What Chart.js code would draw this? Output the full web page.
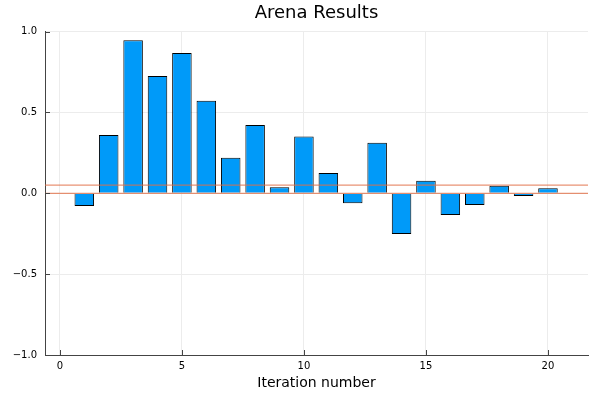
<!DOCTYPE html>
<html>
<head>
<meta charset="utf-8">
<script src="https://cdn.jsdelivr.net/npm/chart.js@4/dist/chart.umd.min.js"></script>
<style>
html,body{margin:0;padding:0;background:#fff;}
#wrap{width:600px;height:400px;}
</style>
</head>
<body>
<div id="wrap"><canvas id="c" width="600" height="400"></canvas></div>
<script>
const iterations = [1,2,3,4,5,6,7,8,9,10,11,12,13,14,15,16,17,18,19,20];
const results = [-0.078,0.36,0.946,0.726,0.868,0.572,0.22,0.422,0.037,0.352,0.125,-0.062,0.313,-0.251,0.078,-0.134,-0.072,0.047,-0.016,0.031];
const referenceLines = [0, 0.05];
const xTicks = [0,5,10,15,20];
const yTicks = [-1,-0.5,0,0.5,1];
const xRange = [-0.61, 21.64];
const yRange = [-1, 1];

const FONT = "'DejaVu Sans', sans-serif";

const barData = iterations.map((x,i)=>({x:x, y:results[i]}));
const lineSets = referenceLines.map(v=>({
  type:'line',
  data:[{x:xRange[0],y:v},{x:xRange[1],y:v}],
  borderColor:'rgba(226,111,70,0.75)',
  borderWidth:1.2,
  pointRadius:0,
  order:0
}));

const inwardTicks = {
  id:'inwardTicks',
  afterDraw(chart){
    const ctx = chart.ctx, a = chart.chartArea;
    const xs = chart.scales.x, ys = chart.scales.y;
    ctx.save();
    ctx.strokeStyle = '#444';
    ctx.lineWidth = 1;
    ctx.beginPath();
    xTicks.forEach(t=>{const p=Math.round(xs.getPixelForValue(t))+0.5; ctx.moveTo(p,a.bottom); ctx.lineTo(p,a.bottom-5);});
    yTicks.forEach(t=>{const p=Math.round(ys.getPixelForValue(t))+0.5; ctx.moveTo(a.left,p); ctx.lineTo(a.left+5,p);});
    ctx.stroke();
    ctx.restore();
  }
};

new Chart(document.getElementById('c'), {
  type:'bar',
  data:{
    datasets:[
      {
        type:'bar',
        data:barData,
        backgroundColor:'#009af9',
        borderColor:'#000',
        borderWidth:1,
        barPercentage:0.8,
        categoryPercentage:1.0,
        order:1
      },
      ...lineSets
    ]
  },
  options:{
    responsive:false,
    animation:false,
    layout:{padding:{left:0,right:12,top:0,bottom:0}},
    plugins:{
      legend:{display:false},
      tooltip:{enabled:false},
      title:{
        display:true,
        fullSize:false,
        text:'Arena Results',
        color:'#000',
        font:{family:FONT,size:18,weight:'normal'},
        padding:{top:3,bottom:7}
      }
    },
    scales:{
      x:{
        type:'linear',
        offset:false,
        min:xRange[0],
        max:xRange[1],
        afterBuildTicks(s){ s.ticks = xTicks.map(v=>({value:v})); },
        afterFit(s){ s.height = 45; },
        ticks:{color:'#000',font:{family:FONT,size:10},padding:5,maxRotation:0,callback:v=>String(v)},
        grid:{color:'#ececec',lineWidth:1,drawTicks:false,offset:false},
        border:{display:true,color:'#444',width:1},
        title:{display:true,text:'Iteration number',color:'#000',font:{family:FONT,size:14},padding:{top:8,bottom:8}}
      },
      y:{
        type:'linear',
        min:yRange[0],
        max:yRange[1],
        afterBuildTicks(s){ s.ticks = yTicks.map(v=>({value:v})); },
        afterFit(s){ s.width = 45; },
        ticks:{color:'#000',font:{family:FONT,size:10},padding:8,callback:v=>(v<0?'\u2212':'')+Math.abs(v).toFixed(1)},
        grid:{color:'#ececec',lineWidth:1,drawTicks:false},
        border:{display:true,color:'#444',width:1}
      }
    }
  },
  plugins:[inwardTicks]
});
</script>
</body>
</html>
